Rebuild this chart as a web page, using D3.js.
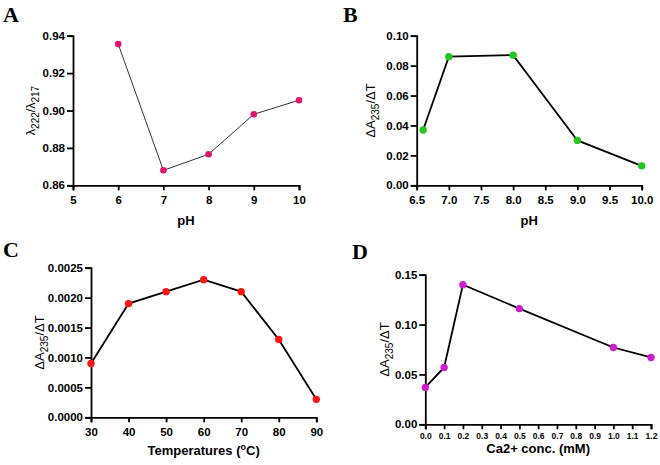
<!DOCTYPE html>
<html>
<head>
<meta charset="utf-8">
<script src="https://cdn.jsdelivr.net/npm/d3@7"></script>
<style>
  body { margin: 0; background: #fff; }
  svg { font-family: "Liberation Sans", Arial, sans-serif; }
</style>
</head>
<body>
<svg id="fig"></svg>
<script>
const W = 660, H = 465;

// Panel A: pH vs λ222/λ217
const phA = [6, 7, 8, 9, 10];
const ratioA = [0.9355, 0.868, 0.8766, 0.898, 0.9055];
const xTicksA = [5, 6, 7, 8, 9, 10];
const yTicksA = [0.86, 0.88, 0.90, 0.92, 0.94];

// Panel B: pH vs ΔA235/ΔT
const phB = [6.6, 7.0, 8.0, 9.0, 10.0];
const rateB = [0.037, 0.086, 0.087, 0.030, 0.013];
const xTicksB = [6.5, 7.0, 7.5, 8.0, 8.5, 9.0, 9.5, 10.0];
const yTicksB = [0, 0.02, 0.04, 0.06, 0.08, 0.10];

// Panel C: temperature vs ΔA235/ΔT
const tempC = [30, 40, 50, 60, 70, 80, 90];
const rateC = [0.0009, 0.0019, 0.0021, 0.0023, 0.0021, 0.0013, 0.0003];
const xTicksC = [30, 40, 50, 60, 70, 80, 90];
const yTicksC = [0, 0.0005, 0.0010, 0.0015, 0.0020, 0.0025];

// Panel D: Ca2+ concentration vs ΔA235/ΔT
const caD = [0.0, 0.1, 0.2, 0.5, 1.0, 1.2];
const rateD = [0.037, 0.057, 0.140, 0.116, 0.077, 0.067];
const xTicksD = [0.0, 0.1, 0.2, 0.3, 0.4, 0.5, 0.6, 0.7, 0.8, 0.9, 1.0, 1.1, 1.2];
const yTicksD = [0, 0.05, 0.10, 0.15];

const svg = d3.select("#fig").attr("width", W).attr("height", H);

function panel(cfg) {
  const g = svg.append("g");
  const x = d3.scaleLinear().domain(cfg.xDomain).range(cfg.xRange);
  const y = d3.scaleLinear().domain(cfg.yDomain).range(cfg.yRange);

  // axes
  const ax = g.append("g")
    .attr("transform", `translate(0,${cfg.yRange[0]})`)
    .call(d3.axisBottom(x).tickValues(cfg.xTicks).tickFormat(d3.format(cfg.xFmt))
      .tickSizeOuter(0).tickSize(5).tickPadding(cfg.xPad || 6));
  const ay = g.append("g")
    .attr("transform", `translate(${cfg.xRange[0]},0)`)
    .call(d3.axisLeft(y).tickValues(cfg.yTicks).tickFormat(d3.format(cfg.yFmt))
      .tickSizeOuter(0).tickSize(6).tickPadding(2));
  [ax, ay].forEach(a => {
    a.selectAll("path, line").attr("stroke", "#000").attr("stroke-width", 1.8);
    a.selectAll("text").attr("fill", "#000").attr("font-weight", "bold")
      .attr("font-size", 11.5);
  });
  if (cfg.xTickSize) ax.selectAll("text").attr("font-size", cfg.xTickSize);

  // line + points
  const pts = cfg.xs.map((d, i) => [d, cfg.ys[i]]);
  g.append("path")
    .datum(pts)
    .attr("fill", "none")
    .attr("stroke", cfg.lineColor)
    .attr("stroke-width", cfg.lineWidth)
    .attr("d", d3.line().x(d => x(d[0])).y(d => y(d[1])));
  g.selectAll("circle.pt").data(pts).join("circle")
    .attr("class", "pt")
    .attr("cx", d => x(d[0]))
    .attr("cy", d => y(d[1]))
    .attr("r", cfg.r)
    .attr("fill", cfg.color);

  // x title
  const xt = g.append("text")
    .attr("x", (cfg.xRange[0] + cfg.xRange[1]) / 2)
    .attr("y", cfg.xTitleY)
    .attr("text-anchor", "middle")
    .attr("font-size", 13)
    .attr("font-weight", "bold");
  cfg.xTitle(xt);

  // y title
  const yt = g.append("text")
    .attr("transform", `translate(${cfg.yTitleX},${(cfg.yRange[0] + cfg.yRange[1]) / 2}) rotate(-90)`)
    .attr("text-anchor", "middle")
    .attr("font-size", 13);
  cfg.yTitle(yt);

  // panel letter
  svg.append("text")
    .attr("x", cfg.letterPos[0]).attr("y", cfg.letterPos[1])
    .attr("font-family", "'Liberation Serif', 'Times New Roman', serif")
    .attr("font-weight", "bold")
    .attr("font-size", 22)
    .text(cfg.letter);
}

function sub(t, s, size) {
  t.append("tspan").attr("dy", 3.5).attr("font-size", size).text(s);
}

function deltaTitle(t) {
  t.append("tspan").text("\u0394A");
  sub(t, "235", 10);
  t.append("tspan").attr("dy", -3.5).text("/\u0394T");
}

panel({
  letter: "A", letterPos: [3, 22],
  xs: phA, ys: ratioA,
  xDomain: [5, 10], xRange: [73, 299], xTicks: xTicksA, xFmt: "d",
  yDomain: [0.86, 0.94], yRange: [185.3, 35.7], yTicks: yTicksA, yFmt: ".2f",
  color: "#e0126e", lineColor: "#333", lineWidth: 1, r: 3.3,
  xTitleY: 225, xTitle: t => t.text("pH"),
  yTitleX: 35, yTitle: t => {
    t.attr("font-size", 12.5);
    t.append("tspan").text("\u03bb");
    sub(t, "222", 10);
    t.append("tspan").attr("dy", -3.5).text("/\u03bb");
    sub(t, "217", 10);
  }
});

panel({
  letter: "B", letterPos: [343, 22],
  xs: phB, ys: rateB,
  xDomain: [6.5, 10], xRange: [416.7, 641.7], xTicks: xTicksB, xFmt: ".1f",
  yDomain: [0, 0.1], yRange: [185.3, 35.7], yTicks: yTicksB, yFmt: ".2f",
  color: "#22c81e", lineColor: "#000", lineWidth: 1.8, r: 3.7,
  xTitleY: 225, xTitle: t => t.text("pH"),
  yTitleX: 375, yTitle: deltaTitle
});

panel({
  letter: "C", letterPos: [3, 257],
  xs: tempC, ys: rateC,
  xDomain: [30, 90], xRange: [91, 316.3], xTicks: xTicksC, xFmt: "d",
  yDomain: [0, 0.0025], yRange: [417.3, 267.7], yTicks: yTicksC, yFmt: ".4f",
  color: "#ff1212", lineColor: "#000", lineWidth: 1.8, r: 3.7,
  xTitleY: 455, xTitle: t => {
    t.append("tspan").text("Temperatures (");
    t.append("tspan").attr("dy", -5).attr("font-size", 9).text("o");
    t.append("tspan").attr("dy", 5).text("C)");
  },
  yTitleX: 44, yTitle: deltaTitle
});

panel({
  letter: "D", letterPos: [352, 259],
  xs: caD, ys: rateD,
  xDomain: [0, 1.2], xRange: [425.3, 651], xTicks: xTicksD, xFmt: ".1f",
  xTickSize: 8.5, xPad: 4,
  yDomain: [0, 0.15], yRange: [424.3, 274.7], yTicks: yTicksD, yFmt: ".2f",
  color: "#cc1fcc", lineColor: "#000", lineWidth: 1.8, r: 3.7,
  xTitleY: 453, xTitle: t => t.text("Ca2+ conc. (mM)"),
  yTitleX: 389, yTitle: deltaTitle
});
</script>
</body>
</html>
